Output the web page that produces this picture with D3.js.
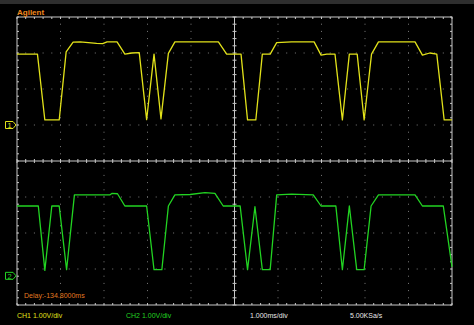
<!DOCTYPE html>
<html>
<head>
<meta charset="utf-8">
<script src="https://cdn.jsdelivr.net/npm/d3@7"></script>
<style>
  body { margin: 0; background: #000; }
  svg { display: block; }
  text { font-family: "Liberation Sans", Arial, sans-serif; }
</style>
</head>
<body>
<svg id="scope" width="474" height="325"></svg>
<script>
// time in ms (0..10 across the screen), voltage in volts
var ch1Time = [0, 0.47, 0.64, 0.97, 1.13, 1.29, 1.45, 1.83, 1.97, 2.07, 2.30, 2.48, 2.64, 2.81, 2.98, 3.15, 3.31, 3.48, 3.63, 4.63, 4.82,
               5.15, 5.30, 5.49, 5.64, 5.82, 5.97, 6.31, 6.83, 6.99, 7.12, 7.31, 7.48, 7.64, 7.82, 7.98, 8.15, 8.31, 9.15, 9.32, 9.49, 9.65, 9.82, 10];
var ch1Volts = [1.97, 1.97, 0.14, 0.14, 2.03, 2.30, 2.31, 2.27, 2.26, 2.31, 2.31, 1.97, 2.00, 2.01, 0.15, 1.97, 0.17, 1.99, 2.31, 2.31, 1.97,
                1.97, 0.14, 0.14, 1.97, 1.97, 2.29, 2.31, 2.31, 1.94, 1.97, 1.97, 0.14, 1.97, 1.97, 0.14, 1.97, 2.31, 2.31, 1.94, 2.00, 1.97, 0.14, 0.14];

var ch2Time = [0, 0.49, 0.64, 0.80, 0.97, 1.14, 1.32, 2.14, 2.18, 2.31, 2.48, 2.98, 3.15, 3.33, 3.48, 3.63, 3.98, 4.32, 4.55, 4.74,
               5.13, 5.30, 5.47, 5.64, 5.82, 5.97, 6.31, 6.81, 6.99, 7.33, 7.48, 7.64, 7.81, 7.98, 8.14, 8.31, 9.15, 9.32, 9.80, 10];
var ch2Volts = [1.94, 1.94, 0.15, 1.94, 1.94, 0.17, 2.25, 2.25, 2.29, 2.28, 1.94, 1.94, 0.17, 0.17, 1.94, 2.25, 2.26, 2.31, 2.29, 1.94,
                1.94, 0.17, 1.92, 0.17, 0.17, 2.25, 2.27, 2.25, 1.94, 1.94, 0.17, 1.94, 0.17, 0.17, 1.94, 2.25, 2.25, 1.94, 1.94, 0.25];

// ground reference of each channel, in divisions from screen centre
var channelOffsets = [1, -3.19];
var channelNames = ["1", "2"];
var channelColors = ["#e2e21a", "#22d422"];

var statusLabels = ["CH1 1.00V/div", "CH2 1.00V/div", "1.000ms/div", "5.00KSa/s"];
var statusColors = ["#e2e21a", "#22d422", "#e8e8e8", "#e8e8e8"];
var statusX = [17, 126, 250, 350];

var svg = d3.select("#scope");
var W = 474, H = 325;
var plot = {left: 17, right: 452, top: 17, bottom: 305};

svg.append("rect").attr("width", W).attr("height", H).attr("fill", "#000");
svg.append("rect").attr("width", W).attr("height", 4).attr("fill", "#2e2e2e");

var x = d3.scaleLinear().domain([0, 10]).range([plot.left, plot.right]);
// vertical position in divisions
var yDiv = d3.scaleLinear().domain([-4, 4]).range([plot.bottom, plot.top]);

var grid = svg.append("g");

// dotted graticule
var minorX = d3.range(0, 10.001, 0.2);
var minorY = d3.range(-4, 4.001, 0.2);
d3.range(1, 10).forEach(function(c) {
    if (c === 5) return;
    grid.selectAll(null).data(minorY).enter().append("rect")
        .attr("x", x(c) - 0.5).attr("y", function(d) { return yDiv(d) - 0.5; })
        .attr("width", 1).attr("height", 1).attr("fill", "#7a7a7a");
});
d3.range(-3, 4).forEach(function(r) {
    if (r === 0) return;
    grid.selectAll(null).data(minorX).enter().append("rect")
        .attr("x", function(d) { return x(d) - 0.5; }).attr("y", yDiv(r) - 0.5)
        .attr("width", 1).attr("height", 1).attr("fill", "#7a7a7a");
});

// centre axes with ticks
var axisColor = "#c8c8c8";
grid.append("line").attr("x1", x(0)).attr("x2", x(10)).attr("y1", yDiv(0)).attr("y2", yDiv(0))
    .attr("stroke", axisColor);
grid.append("line").attr("x1", x(5)).attr("x2", x(5)).attr("y1", yDiv(-4)).attr("y2", yDiv(4))
    .attr("stroke", axisColor);
grid.selectAll(null).data(minorX).enter().append("line")
    .attr("x1", function(d) { return x(d); }).attr("x2", function(d) { return x(d); })
    .attr("y1", yDiv(0) - 2).attr("y2", yDiv(0) + 2).attr("stroke", axisColor);
grid.selectAll(null).data(minorY).enter().append("line")
    .attr("x1", x(5) - 2).attr("x2", x(5) + 2)
    .attr("y1", function(d) { return yDiv(d); }).attr("y2", function(d) { return yDiv(d); })
    .attr("stroke", axisColor);

// frame with inward ticks
grid.append("rect").attr("x", plot.left).attr("y", plot.top)
    .attr("width", plot.right - plot.left).attr("height", plot.bottom - plot.top)
    .attr("fill", "none").attr("stroke", axisColor);
grid.selectAll(null).data(minorX).enter().append("line")
    .attr("x1", function(d) { return x(d); }).attr("x2", function(d) { return x(d); })
    .attr("y1", plot.top).attr("y2", plot.top + 2).attr("stroke", axisColor);
grid.selectAll(null).data(minorX).enter().append("line")
    .attr("x1", function(d) { return x(d); }).attr("x2", function(d) { return x(d); })
    .attr("y1", plot.bottom).attr("y2", plot.bottom - 2).attr("stroke", axisColor);
grid.selectAll(null).data(minorY).enter().append("line")
    .attr("x1", plot.left).attr("x2", plot.left + 2)
    .attr("y1", function(d) { return yDiv(d); }).attr("y2", function(d) { return yDiv(d); })
    .attr("stroke", axisColor);
grid.selectAll(null).data(minorY).enter().append("line")
    .attr("x1", plot.right).attr("x2", plot.right - 2)
    .attr("y1", function(d) { return yDiv(d); }).attr("y2", function(d) { return yDiv(d); })
    .attr("stroke", axisColor);

// traces
var traces = [
    {t: ch1Time, v: ch1Volts, off: channelOffsets[0], color: channelColors[0]},
    {t: ch2Time, v: ch2Volts, off: channelOffsets[1], color: channelColors[1]}
];
traces.forEach(function(tr) {
    var pts = tr.t.map(function(t, i) { return [t, tr.v[i]]; });
    var line = d3.line()
        .x(function(d) { return x(d[0]); })
        .y(function(d) { return yDiv(d[1] + tr.off); });
    svg.append("path").datum(pts).attr("d", line)
        .attr("fill", "none").attr("stroke", tr.color).attr("stroke-width", 1.3)
        .attr("stroke-linejoin", "round");
});

// channel ground markers
channelOffsets.forEach(function(off, i) {
    var gy = yDiv(off);
    var m = svg.append("g").attr("transform", "translate(0," + gy + ")");
    m.append("path")
        .attr("d", "M5.5,-3.5 H13 L16,0 L13,3.5 H5.5 Z")
        .attr("fill", "none").attr("stroke", channelColors[i]).attr("stroke-width", 1);
    m.append("text").attr("x", 9.5).attr("y", 2.8).attr("text-anchor", "middle")
        .attr("font-size", 7.5).attr("fill", channelColors[i]).text(channelNames[i]);
});

// labels
svg.append("text").attr("x", 17).attr("y", 15).attr("font-size", 8).attr("font-weight", "bold")
    .attr("fill", "#f08a1e").text("Agilent");
svg.append("text").attr("x", 24).attr("y", 298).attr("font-size", 7)
    .attr("fill", "#e07a20").text("Delay:-134.8000ms");

svg.selectAll(".status").data(statusLabels).enter().append("text")
    .attr("class", "status")
    .attr("x", function(d, i) { return statusX[i]; })
    .attr("y", 318).attr("font-size", 7)
    .attr("fill", function(d, i) { return statusColors[i]; })
    .text(function(d) { return d; });
</script>
</body>
</html>
